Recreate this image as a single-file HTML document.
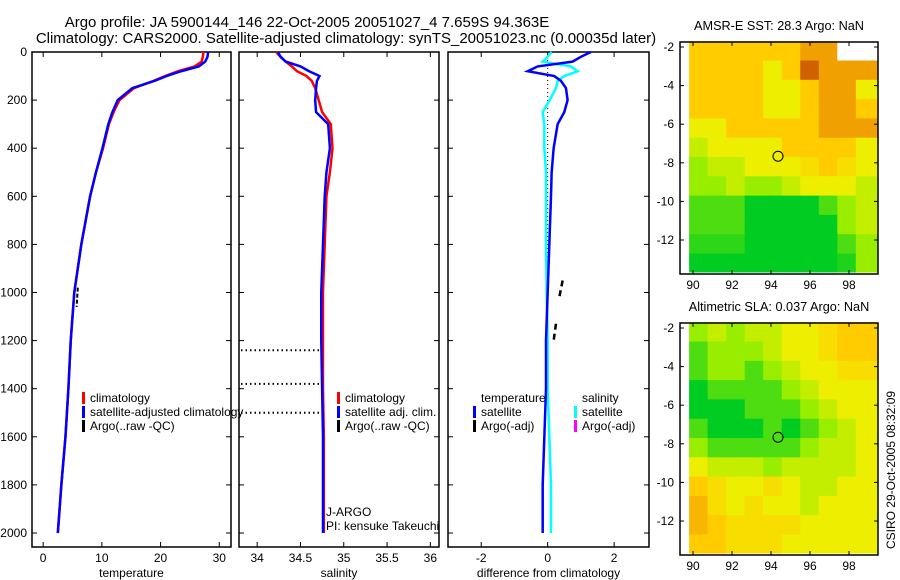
<!DOCTYPE html>
<html><head><meta charset="utf-8"><style>
body{margin:0;background:#fff}
svg{display:block;font-family:"Liberation Sans",sans-serif}
text{fill:#000}
</style></head><body>
<svg id="fig" width="900" height="580" viewBox="0 0 900 580">
<text x="307" y="27" font-size="15" text-anchor="middle">Argo profile: JA 5900144_146 22-Oct-2005 20051027_4 7.659S 94.363E</text>
<text x="346" y="43" font-size="15" text-anchor="middle">Climatology: CARS2000. Satellite-adjusted climatology: synTS_20051023.nc (0.00035d later)</text>
<g id="g"></g>
<text transform="translate(895,470) rotate(-90)" font-size="12" text-anchor="middle">CSIRO 29-Oct-2005 08:32:09</text>
</svg>
<script>
const depths=[0,20,40,60,80,100,120,150,200,250,300,400,500,600,800,1000,1200,1400,1600,1800,2000];
const tempClim=[27.3,27.2,27,25.8,23,20.8,18.8,15.5,13,12,11.2,10.2,9,8,6.5,5.3,4.7,4.3,3.8,3.1,2.5];
const tempSat=[28.1,28,27.6,26.5,23.5,21,19,15.2,12.7,11.8,11.1,10.1,9,8,6.5,5.3,4.7,4.3,3.8,3.1,2.5];
const salClim=[34.22,34.27,34.33,34.4,34.46,34.57,34.63,34.67,34.71,34.75,34.85,34.87,34.84,34.8,34.78,34.76,34.76,34.76,34.77,34.77,34.77];
const salSat=[34.24,34.27,34.33,34.5,34.6,34.72,34.69,34.68,34.67,34.68,34.82,34.84,34.8,34.78,34.76,34.74,34.74,34.75,34.76,34.76,34.76];
const tDiff=[1.3,1.0,0.75,-0.3,-0.6,0.2,0.4,0.55,0.6,0.5,0.3,0.18,0.12,0.1,0.05,0.0,-0.05,-0.05,-0.1,-0.15,-0.15];
const sDiff=[0.12,0.0,-0.15,0.7,0.9,0.5,0.3,0.25,0.06,-0.15,-0.1,-0.1,-0.05,-0.05,-0.05,-0.03,0,0,0.05,0.1,0.1];
const argoTempDepth=[980,1060];const argoTemp=[5.9,5.7];
const argoDiffDepth=[950,1020,1130,1200];const argoDiff=[0.45,0.35,0.25,0.18];
const badDepths=[1240,1380,1500];
const depthTicks=[0,200,400,600,800,1000,1200,1400,1600,1800,2000];
const tempTicks=[0,10,20,30];
const salTicks=[34,34.5,35,35.5,36];
const diffTicks=[-2,0,2];
const lonTicks=[90,92,94,96,98];
const latTicks=[-2,-4,-6,-8,-10,-12];
const mapLons=[89.8,90.75,91.7,92.65,93.6,94.55,95.5,96.45,97.4,98.35];
const mapLats=[-1.7,-2.7,-3.7,-4.7,-5.7,-6.7,-7.7,-8.7,-9.7,-10.7,-11.7,-12.7];
const sstGrid=[
[3,3,3,3,3,3,4,4,-1,-1],
[3,3,3,3,2,3,5,4,4,4],
[3,3,3,3,2,2,3,4,4,2],
[3,3,3,3,2,2,3,4,4,3],
[2,2,3,3,3,3,3,4,4,4],
[1.5,2,2,2,2,3,3,3,3,2],
[1,1.5,1.5,2,2,2,2.5,3,2.5,2],
[1,1,1.5,1,1,1.5,2,2,2,1.5],
[0.5,0.5,0.5,0,0,0,0,0.5,1,1.5],
[0.5,0.5,0.5,0,0,0,0,0,1,1.5],
[0.3,0.3,0.3,0,0,0,0,0,0.5,1],
[0,0,0,0,0,0,0,0,0.2,1]];
const slaGrid=[
[1,1.5,1,1.5,1.5,2,2,2.5,3,3],
[0.5,1,1,1,1.5,2,2,2.5,3,3],
[0.5,1,1,0.5,1,1.5,2,2,2.5,2.5],
[0,0.5,0.5,0.5,0.5,1,1.5,2,2,2],
[0,0,0,0.5,0.5,0.5,1,1.5,2,2],
[0.5,0,0,0,0.5,0,0.5,1,1.5,2],
[1,0.5,0.5,0.5,0.5,0.5,1,1.5,1.5,2],
[2,1.5,1.5,1.5,1,1.5,1.5,1.5,1.5,2],
[3,2.5,2,2,2.5,2,1.5,1.5,2,2],
[3.5,2.5,2,2.5,2,2,1.5,2,2,2],
[3.5,3,2.5,2.5,2.5,2.5,2,2,2,2],
[3,3,2.5,2.5,2.5,2,2,2,2,2]];
const argoLon=94.36, argoLat=-7.66;

const NS='http://www.w3.org/2000/svg';
const G=document.getElementById('g');
function mk(t,a,p){const e=document.createElementNS(NS,t);for(const k in a)e.setAttribute(k,a[k]);(p||G).appendChild(e);return e;}
const yD=d=>52+d*0.2405;
function panel(name,x0,x1,vmin,vmax,ticks,xlabel){
  const sx=v=>x0+(v-vmin)/(vmax-vmin)*(x1-x0);
  const g=mk('g',{});
  
  
  const r=mk('rect',{x:x0,y:52,width:x1-x0,height:495,fill:'none',stroke:'#000','stroke-width':1.5},g);
  
  
  ticks.forEach(t=>{const x=sx(t);
    mk('line',{x1:x,x2:x,y1:547,y2:542,stroke:'#000'},g);mk('line',{x1:x,x2:x,y1:52,y2:57,stroke:'#000'},g);
    const tx=mk('text',{x:x,y:562,'font-size':12,'text-anchor':'middle'},g);tx.textContent=String(t);
    
    });
  depthTicks.forEach(d=>{const y=yD(d);mk('line',{x1:x0,x2:x0+5,y1:y,y2:y,stroke:'#000'},g);mk('line',{x1:x1,x2:x1-5,y1:y,y2:y,stroke:'#000'},g);});
  const xl=mk('text',{x:(x0+x1)/2,y:577,'font-size':12,'text-anchor':'middle'},g);xl.textContent=xlabel;
  
  
  return sx;
}
function line(sx,vals,color,w,name,dash){
  const p=mk('polyline',{points:vals.map((v,i)=>sx(v)+','+yD(depths[i])).join(' '),fill:'none',stroke:color,'stroke-width':w});
  if(dash)p.setAttribute('stroke-dasharray',dash);
  
  
}
function legend(x,y,items){items.forEach((it,i)=>{const yy=y+i*14;
  mk('rect',{x:x,y:yy-10,width:3,height:12,fill:it[1]});
  const t=mk('text',{x:x+8,y:yy,'font-size':12});t.textContent=it[0];
  
  });}
depthTicks.forEach(d=>{const t=mk('text',{x:27,y:yD(d)+4,'font-size':12,'text-anchor':'end'});t.textContent=d;
  
  });
const sT=panel('temperature-panel',32,231,-1.9,32,tempTicks,'temperature');
line(sT,tempClim,'#f00',2.5,'temp-climatology-line');
line(sT,tempSat,'#00f',2.5,'temp-satellite-line');
const ta=mk('polyline',{points:argoTempDepth.map((d,i)=>sT(argoTemp[i])+','+yD(d)).join(' '),stroke:'#000','stroke-width':2,fill:'none','stroke-dasharray':'4,2'});


legend(82,402,[['climatology','#f00'],['satellite-adjusted climatology','#00f'],['Argo(..raw -QC)','#000']]);
const sS=panel('salinity-panel',239,439,33.79,36.1,salTicks,'salinity');
line(sS,salClim,'#f00',2.5,'sal-climatology-line');
line(sS,salSat,'#00f',2.5,'sal-satellite-line');
badDepths.forEach(d=>{const l=mk('line',{x1:241,x2:sS(34.74),y1:yD(d),y2:yD(d),stroke:'#000','stroke-width':2,'stroke-dasharray':'1.5,3'});
  
  });
legend(337,402,[['climatology','#f00'],['satellite adj. clim.','#00f'],['Argo(..raw -QC)','#000']]);
[['J-ARGO',516],['PI: kensuke Takeuchi',530]].forEach(a=>{const t=mk('text',{x:326,y:a[1],'font-size':12});t.textContent=a[0];
  
  });
const sDf=panel('difference-panel',448,649,-3.0,3.05,diffTicks,'difference from climatology');
mk('line',{x1:sDf(0),x2:sDf(0),y1:52,y2:yD(1000),stroke:'#000','stroke-dasharray':'1,3'});
line(sDf,sDiff,'#0ff',2.5,'sal-diff-line');
line(sDf,tDiff,'#00f',2.5,'temp-diff-line');
for(let i=0;i<argoDiffDepth.length;i+=2){const l=mk('line',{x1:sDf(argoDiff[i]),y1:yD(argoDiffDepth[i]),x2:sDf(argoDiff[i+1]),y2:yD(argoDiffDepth[i+1]),stroke:'#000','stroke-width':2.5,'stroke-dasharray':'6,4'});
  
  }
{const t=mk('text',{x:481,y:402,'font-size':12});t.textContent='temperature';
 const s=mk('text',{x:582,y:402,'font-size':12});s.textContent='salinity';}
legend(473,416,[['satellite','#00f'],['Argo(-adj)','#000']]);
legend(574,416,[['satellite','#0ff'],['Argo(-adj)','#f0f']]);
const cmap=[[0,204,34],[153,238,0],[238,238,0],[255,204,0],[240,160,0],[208,96,0]];
function col(v){if(v<0)return '#fff';const i=Math.min(4,Math.floor(v)),f=v-i;const a=cmap[i],b=cmap[i+1];
  return 'rgb('+a.map((c,k)=>Math.round(c+(b[k]-c)*f)).join(',')+')';}
function map(name,title,y0,grid){
  const x0=680,x1=878,y1=y0+232;
  const sx=lon=>693+(lon-90)*19.5, sy=lat=>y0+5+(-2-lat)*19.3;
  const g=mk('g',{});
  
  
  grid.forEach((row,r)=>row.forEach((v,c)=>{const xa=sx(mapLons[c]),xb=c<9?sx(mapLons[c+1]):877;
    const ya=sy(mapLats[r]),yb=r<11?sy(mapLats[r+1]):y1-2;
    const cell=mk('rect',{x:xa,y:ya,width:xb-xa+0.5,height:yb-ya+0.5,fill:col(v)},g);
    
    }));
  const fr=mk('rect',{x:x0,y:y0,width:x1-x0,height:y1-y0,fill:'none',stroke:'#000','stroke-width':1.5},g);
  
  
  lonTicks.forEach(l=>{const x=sx(l);mk('line',{x1:x,x2:x,y1:y1,y2:y1-4,stroke:'#000'},g);mk('line',{x1:x,x2:x,y1:y0,y2:y0+4,stroke:'#000'},g);
    const t=mk('text',{x:x,y:y1+15,'font-size':12,'text-anchor':'middle'},g);t.textContent=l;
    
    });
  latTicks.forEach(l=>{const y=sy(l);mk('line',{x1:x0,x2:x0+4,y1:y,y2:y,stroke:'#000'},g);mk('line',{x1:x1,x2:x1-4,y1:y,y2:y,stroke:'#000'},g);
    const t=mk('text',{x:x0-6,y:y+4,'font-size':12,'text-anchor':'end'},g);t.textContent=l;
    
    });
  const c=mk('circle',{cx:sx(argoLon),cy:sy(argoLat),r:5,fill:'none',stroke:'#000'},g);
  
  
  const t=mk('text',{x:(x0+x1)/2+0,y:y0-12,'font-size':12.7,'text-anchor':'middle'},g);t.textContent=title;
  
  
}
map('sst-map','AMSR-E SST: 28.3 Argo: NaN',42,sstGrid);
map('sla-map','Altimetric SLA: 0.037 Argo: NaN',323,slaGrid);
</script>
</body></html>
